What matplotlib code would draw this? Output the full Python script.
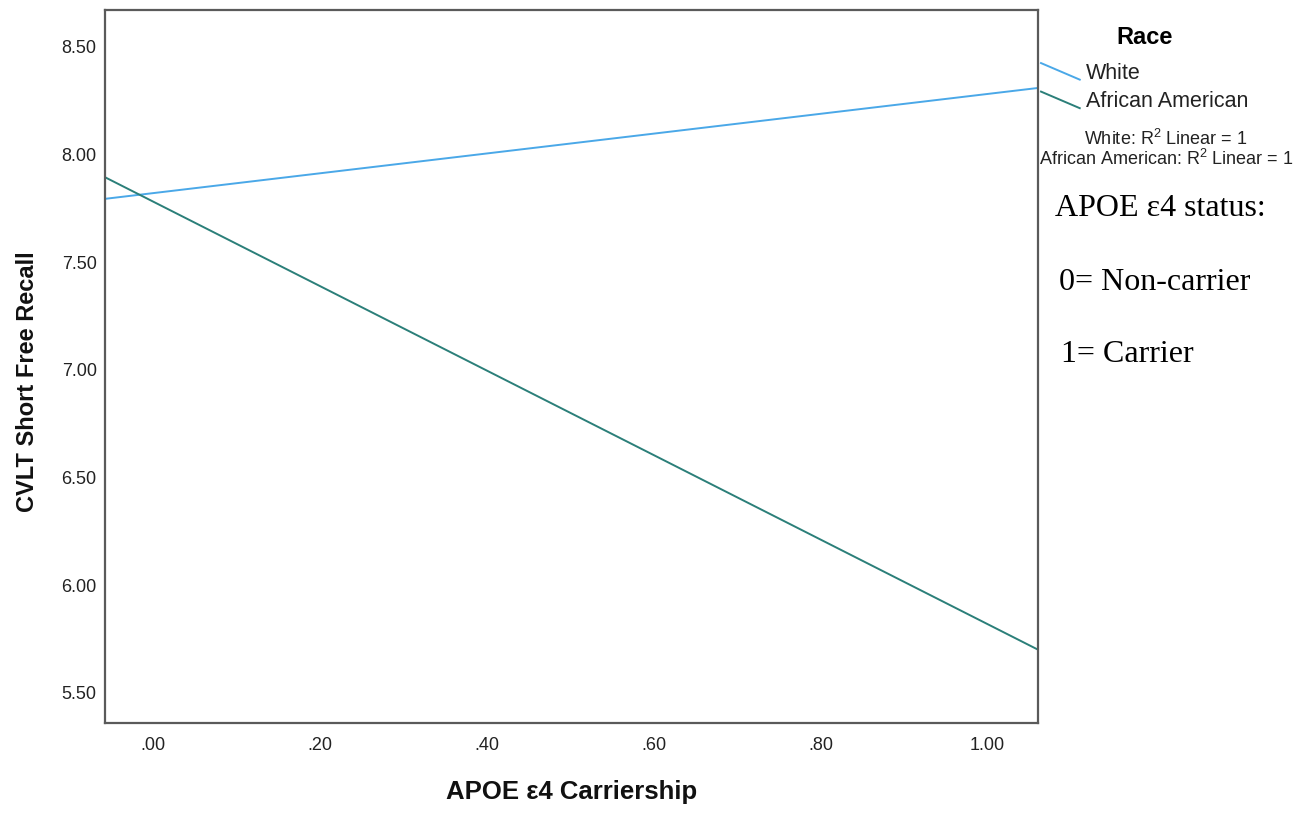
import numpy as np
import matplotlib
matplotlib.use("Agg")
import matplotlib.pyplot as plt
from matplotlib.lines import Line2D
from matplotlib.legend_handler import HandlerLine2D

# ── Daten ────────────────────────────────────────────────────────────────────
groups      = ["White", "African American"]
carrier     = [0.0, 1.0]                 # APOE e4: 0 = non-carrier, 1 = carrier
recall_mean = {
    "White":            [7.82, 8.28],
    "African American": [7.78, 5.82],
}
colors = {"White": "#4aa8e8", "African American": "#2b7f79"}

xticks = [0.0, 0.2, 0.4, 0.6, 0.8, 1.0]
xtick_labels = [".00", ".20", ".40", ".60", ".80", "1.00"]
yticks = [5.5, 6.0, 6.5, 7.0, 7.5, 8.0, 8.5]
ytick_labels = ["5.50", "6.00", "6.50", "7.00", "7.50", "8.00", "8.50"]
XLIM = (-0.058, 1.061)
YLIM = (5.36, 8.67)

plt.rcParams["font.family"] = ["Liberation Sans", "DejaVu Sans"]
plt.rcParams["mathtext.fontset"] = "custom"
plt.rcParams["mathtext.rm"] = "Liberation Sans"
plt.rcParams["mathtext.it"] = "Liberation Sans:italic"
plt.rcParams["mathtext.bf"] = "Liberation Sans:bold"

TEXT = "#222222"
SPINE = "#5a5a5a"


class DiagonalHandler(HandlerLine2D):
    """SPSS-Stil: Legendenlinie schräg nach unten."""
    def create_artists(self, legend, orig_handle, xdescent, ydescent,
                       width, height, fontsize, trans):
        line = Line2D([-xdescent, width - xdescent],
                      [height * 1.05 - ydescent, -0.05 * height - ydescent])
        self.update_prop(line, orig_handle, legend)
        line.set_transform(trans)
        return [line]


fig = plt.figure(figsize=(13.09, 8.13), dpi=100)
ax = fig.add_axes([105 / 1309, 1 - 723 / 813, (1038 - 105) / 1309, (723 - 10) / 813])

# Fit-Linien über die ganze x-Achse
xs = np.array(XLIM)
handles = []
for g in groups:
    slope, icpt = np.polyfit(carrier, recall_mean[g], 1)
    h, = ax.plot(xs, icpt + slope * xs, color=colors[g], linewidth=1.4, label=g)
    handles.append(h)

ax.set_xlim(*XLIM)
ax.set_ylim(*YLIM)
ax.set_xticks(xticks)
ax.set_xticklabels(xtick_labels)
ax.set_yticks(yticks)
ax.set_yticklabels(ytick_labels)
ax.tick_params(axis="both", length=0, labelsize=13, colors=TEXT)
ax.tick_params(axis="x", pad=10)
ax.tick_params(axis="y", pad=6)
for sp in ax.spines.values():
    sp.set_color(SPINE)
    sp.set_linewidth(1.6)

ax.set_xlabel("APOE ε4 Carriership", fontsize=18.5, fontweight="bold",
              color="#111111", labelpad=19)
ax.set_ylabel("CVLT Short Free Recall", fontsize=17, fontweight="bold",
              color="#111111")
ax.yaxis.set_label_coords(-0.071, 0.478)

# Legende rechts außerhalb
leg = fig.legend(handles=handles, labels=groups, title="Race",
                 loc="upper left", bbox_to_anchor=(1041 / 1309, 1 - 26 / 813),
                 frameon=False, fontsize=15.5, handlelength=1.8,
                 handletextpad=0.3, labelspacing=0.35, borderpad=0,
                 borderaxespad=0,
                 handler_map={Line2D: DiagonalHandler()})
leg.get_title().set_fontweight("bold")
leg.get_title().set_fontsize(17)
leg._legend_box.sep = 10
for t in leg.get_texts():
    t.set_color(TEXT)

fig.text(1166 / 1309, 1 - 139 / 813, r"White: R$^{2}$ Linear = 1",
         fontsize=13, ha="center", va="center", color=TEXT)
fig.text(1166 / 1309, 1 - 159 / 813, r"African American: R$^{2}$ Linear = 1",
         fontsize=13, ha="center", va="center", color=TEXT)

# Zusatz-Textbox (Times)
serif = ["Liberation Serif", "DejaVu Serif"]
fig.text(1055 / 1309, 1 - 208 / 813, "APOE ε4 status:", family=serif,
         fontsize=23, ha="left", va="center", color="black")
fig.text(1059 / 1309, 1 - 282 / 813, "0= Non-carrier", family=serif,
         fontsize=23, ha="left", va="center", color="black")
fig.text(1061 / 1309, 1 - 354 / 813, "1= Carrier", family=serif,
         fontsize=23, ha="left", va="center", color="black")

fig.savefig("out.png", dpi=100, facecolor="white")
